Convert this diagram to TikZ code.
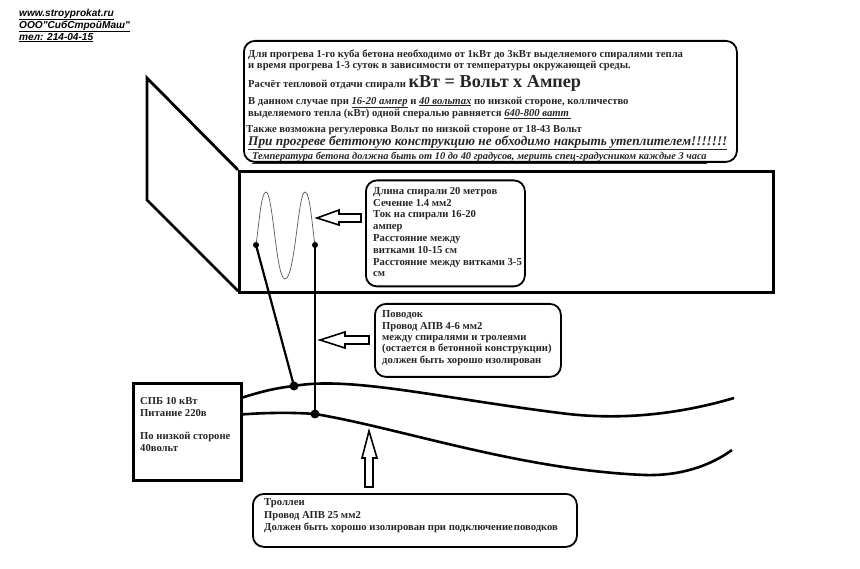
\documentclass[tikz,border=0pt]{standalone}
\usepackage{fontspec}
\setmainfont{Liberation Serif}
\newfontfamily\hdr{Liberation Sans}
\newcommand\ulin[1]{\underline{#1}}
\tikzset{
  x=1pt,y=-1pt,
  frame/.style={draw=black,line width=3pt,fill=white},
  rbox/.style={draw=black,line width=1.8pt,rounded corners=11pt,fill=white},
  hollow/.style={draw=black,line width=1.6pt,fill=white,line join=miter},
  wire/.style={draw=black,line width=2.6pt},
  lead/.style={draw=black,line width=1.5pt},
  junction/.style={circle,fill=black,inner sep=0pt,minimum size=#1},
  txt/.style={anchor=west,inner sep=0pt,font=\bfseries\fontsize{10.65}{13.4}\selectfont,text=black!85,align=left},
}
\begin{document}
\begin{tikzpicture}
\useasboundingbox (0,0) rectangle (860,569);
\fill[white] (0,0) rectangle (860,569);
% header
\node[anchor=north west,inner sep=0pt,align=left,font=\hdr\bfseries\itshape\fontsize{10.1}{12}\selectfont] (hdr) at (19,8.5) {\ulin{www.stroyprokat.ru}\\\ulin{ООО"СибСтройМаш"}\\\ulin{тел: 214-04-15}};
% concrete form
\coordinate (p1) at (147,78);
\coordinate (p2) at (147,200);
\coordinate (p3) at (238,291);
\coordinate (p4) at (238,170);
\draw[line width=2.8pt] (p4) -- (p1) -- (p2) -- (p3);
\node[frame,minimum width=534pt,minimum height=121pt,anchor=north west,inner sep=0pt] (form) at (238,170.5) {};
% top box
\node[rbox,minimum width=493pt,minimum height=121pt,anchor=north west,inner sep=0pt] (top) at (243,40) {};
\node[txt] (t1) at (248,55) {Для прогрева 1-го куба бетона необходимо от 1кВт до 3кВт выделяемого спиралями тепла};
\node[txt] (t2) at (248,66) {и время прогрева 1-3 суток в зависимости от температуры окружающей среды.};
\node[txt,font=\bfseries\fontsize{10.65}{12}\selectfont] (t3) at (248,83) {Расчёт тепловой отдачи спирали \fontsize{18.2}{20}\selectfont кВт = Вольт х Ампер};
\node[txt] (t4) at (248,102.5) {В данном случае при \textit{\ulin{16-20 ампер}} и \textit{\ulin{40 вольтах}} по низкой стороне, колличество};
\node[txt] (t5) at (248,114) {выделяемого тепла (кВт) одной спералью равняется \textit{\ulin{640-800 ватт\,}}};
\node[txt] (t6) at (246,130) {Также возможна регулеровка Вольт по низкой стороне от 18-43 Вольт};
\node[txt,font=\bfseries\itshape\fontsize{13.3}{15}\selectfont] (t7) at (248,143) {\ulin{При прогреве беттоную конструкцию не обходимо накрыть утеплителем!!!!!!!}};
\node[txt,font=\bfseries\itshape\fontsize{10.4}{12}\selectfont] (t8) at (252,158) {\ulin{Температура бетона должна быть от 10 до 40 градусов, мерить спец-градусником каждые 3 часа}};
% spiral
\coordinate (sa) at (256,245);
\coordinate (sb) at (315,245);
\draw[line width=0.7pt,draw=black!65] (sa) .. controls (259,225) and (261,192) .. (266,192) .. controls (273,192) and (276,279) .. (285,279) .. controls (295,279) and (298,192) .. (305,192) .. controls (310,192) and (312,225) .. (sb);
% info boxes
\node[rbox,minimum width=159pt,minimum height=106pt,anchor=north west,inner sep=0pt] (spiralbox) at (365,179.5) {};
\node[txt,anchor=north west,font=\bfseries\fontsize{10.65}{11.8}\selectfont] (spiraltext) at (373,187) {Длина спирали 20 метров\\Сечение 1.4 мм2\\Ток на спирали 16-20\\ампер\\Расстояние между\\витками 10-15 см\\Расстояние между витками 3-5\\см};
\draw[hollow] (361,214) -- (339,214) -- (339,210) -- (317,218) -- (339,225) -- (339,222) -- (361,222) -- cycle;
\node[rbox,minimum width=186pt,minimum height=73pt,anchor=north west,inner sep=0pt] (leadbox) at (374,303) {};
\node[txt,anchor=north west,font=\bfseries\fontsize{10.65}{11.4}\selectfont] (leadtext) at (382,310.5) {Поводок\\Провод АПВ 4-6 мм2\\между спиралями и тролеями\\(остается в бетонной конструкции)\\должен быть хорошо изолирован};
\draw[hollow] (369,336) -- (345,336) -- (345,332) -- (320,340) -- (345,348) -- (345,344) -- (369,344) -- cycle;
% SPB
\node[frame,minimum width=108pt,minimum height=97pt,anchor=north west,inner sep=0pt] (spb) at (132,382) {};
\node[txt,anchor=north west,font=\bfseries\fontsize{10.65}{12}\selectfont] (spbtext) at (140,397) {СПБ 10 кВт\\Питание 220в\\[11.5pt]По низкой стороне\\40вольт};
% trolleys
\coordinate (ta) at (241,398);
\coordinate (tb) at (241,414.5);
\coordinate (ja) at (294,386);
\coordinate (jb) at (315,414);
\coordinate (ea) at (734,398);
\coordinate (eb) at (732,450);
\draw[wire] (ta) .. controls (260,392) and (275,388) .. (ja) .. controls (350,376) and (440,398) .. (560,413) .. controls (620,421) and (680,414) .. (ea);
\draw[wire] (tb) .. controls (260,413) and (290,412) .. (jb) .. controls (400,428) and (520,470) .. (645,475) .. controls (680,476) and (710,466) .. (eb);
\draw[lead,line width=2.2pt] (sa) -- (ja);
\draw[lead] (sb) -- (jb);
\node[junction=6pt] (d1) at (sa) {};
\node[junction=6pt] (d2) at (sb) {};
\node[junction=9pt] (d3) at (ja) {};
\node[junction=9pt] (d4) at (jb) {};
\draw[hollow] (365,487) -- (365,458) -- (362,458) -- (369,431) -- (377,458) -- (373,458) -- (373,487) -- cycle;
% bottom box
\node[rbox,minimum width=324pt,minimum height=53pt,anchor=north west,inner sep=0pt] (trolbox) at (252,493) {};
\node[txt,anchor=north west,font=\bfseries\fontsize{10.65}{12.4}\selectfont] (troltext) at (264,498.5) {Троллеи\\Провод АПВ 25 мм2\\Должен быть хорошо изолирован при подключение\hspace{1pt}поводков};
\end{tikzpicture}
\end{document}
